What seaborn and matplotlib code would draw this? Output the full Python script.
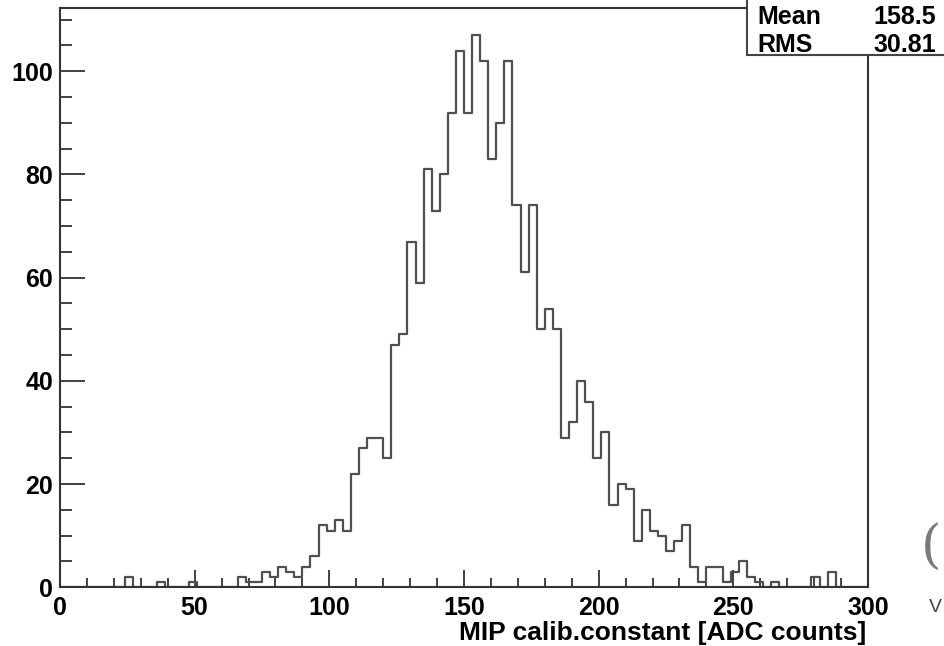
import numpy as np
import pandas as pd
import matplotlib
matplotlib.use("Agg")
import matplotlib.pyplot as plt
import seaborn as sns
from matplotlib.patches import Rectangle
from matplotlib.ticker import MultipleLocator

# ---- data (100 bins of width 3 from 0 to 300) ----
x_min = 0
x_max = 300
n_bins = 100
counts = [
    0, 0, 0, 0, 0, 0, 0, 0, 2, 0,      # 0-30
    0, 0, 1, 0, 0, 0, 1, 0, 0, 0,      # 30-60
    0, 0, 2, 1, 1, 3, 2, 4, 3, 2,      # 60-90
    4, 6, 12, 11, 13, 11, 22, 27, 29, 29,   # 90-120
    25, 47, 49, 67, 59, 81, 73, 80, 92, 104,  # 120-150
    92, 107, 102, 83, 90, 102, 74, 61, 74, 50,  # 150-180
    54, 50, 29, 32, 40, 36, 25, 30, 16, 20,  # 180-210
    19, 9, 15, 11, 10, 7, 9, 12, 4, 1,       # 210-240
    4, 4, 1, 3, 5, 2, 1, 0, 1, 0,            # 240-270
    0, 0, 0, 2, 0, 3, 0, 0, 0, 0,            # 270-300
]
stat_names = ["Mean", "RMS"]
stat_values = ["158.5", "30.81"]
x_label = "MIP calib.constant [ADC counts]"

edges = [float(e) for e in np.linspace(x_min, x_max, n_bins + 1)]
centers = [0.5 * (a + b) for a, b in zip(edges[:-1], edges[1:])]
df = pd.DataFrame({"x": centers, "n": counts})

# ---- style ----
sns.set_style("white")
plt.rcParams["font.family"] = ["Liberation Sans", "DejaVu Sans"]
plt.rcParams["font.weight"] = "bold"

W, H = 944, 646
fig = plt.figure(figsize=(W / 100, H / 100), dpi=100)
fig.patch.set_facecolor("white")

ax_l, ax_r, ax_b, ax_t = 60, 868, 587.3, 7.5
ax = fig.add_axes([ax_l / W, 1 - ax_b / H, (ax_r - ax_l) / W, (ax_b - ax_t) / H])

sns.histplot(data=df, x="x", weights="n", bins=edges, element="step",
             fill=False, color="#505050", linewidth=1.6, ax=ax)

ax.set_xlim(x_min, x_max)
ax.set_ylim(0, 1.05 * max(counts))
ax.set_xlabel("")
ax.set_ylabel("")

ax.xaxis.set_major_locator(MultipleLocator(50))
ax.xaxis.set_minor_locator(MultipleLocator(10))
ax.yaxis.set_major_locator(MultipleLocator(20))
ax.yaxis.set_minor_locator(MultipleLocator(5))

frame_col = "#333333"
ax.tick_params(which="both", bottom=True, left=True, top=False, right=False)
ax.tick_params(axis="x", which="major", direction="in", length=12, width=1.3,
               color=frame_col, labelsize=18, pad=6, labelcolor="black")
ax.tick_params(axis="x", which="minor", direction="in", length=6.5, width=1.3,
               color=frame_col)
ax.tick_params(axis="y", which="major", direction="in", length=18, width=1.3,
               color=frame_col, labelsize=18, pad=5, labelcolor="black")
ax.tick_params(axis="y", which="minor", direction="in", length=8.6, width=1.3,
               color=frame_col)
for s in ax.spines.values():
    s.set_visible(True)
    s.set_color(frame_col)
    s.set_linewidth(1.5)

# x-axis title, right aligned at the axis end
fig.text(866 / W, 1 - 640 / H, x_label, ha="right", va="baseline",
         fontsize=19, fontweight="bold", color="black")

# ---- statistics box (top-right, partly outside the picture) ----
box = Rectangle((747 / W, 1 - 55 / H), (990 - 747) / W, 80 / H,
                transform=fig.transFigure, facecolor="white",
                edgecolor="#444444", linewidth=1.5, zorder=5)
fig.add_artist(box)
baselines = [24, 51.7]
for name, val, yb in zip(stat_names, stat_values, baselines):
    fig.text(757 / W, 1 - yb / H, name, ha="left", va="baseline",
             fontsize=18, fontweight="bold", color="black", zorder=6)
    fig.text(936 / W, 1 - yb / H, val, ha="right", va="baseline",
             fontsize=18, fontweight="bold", color="black", zorder=6)

# glyphs of neighbouring text at the right edge
fig.text(921 / W, 1 - 563 / H, "(", ha="left", va="baseline",
         fontsize=38, family="DejaVu Serif", fontweight="normal", color="#7a7a7a")
fig.text(929 / W, 1 - 612 / H, "V", ha="left", va="baseline",
         fontsize=14, fontweight="normal", color="#444444")

fig.savefig("out.png", dpi=100, facecolor="white")
